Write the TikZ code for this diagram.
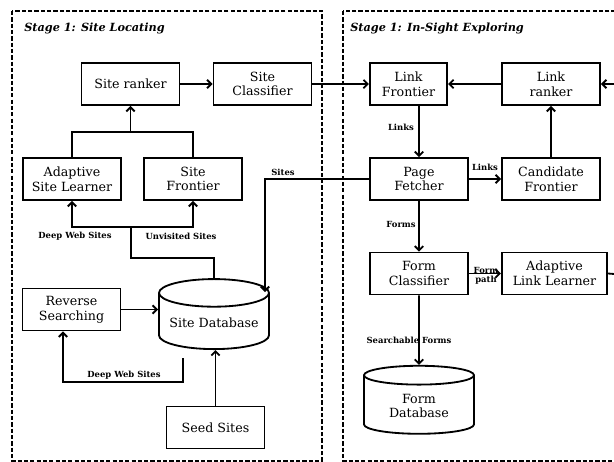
\documentclass[tikz,border=0pt]{standalone}
\usepackage{fontspec}
\setmainfont{DejaVu Serif}
\usetikzlibrary{shapes.geometric,arrows.meta}

\tikzset{
    blk/.style={draw, line width=1.3pt, minimum width=2.45cm, minimum height=1.05cm, align=center, inner sep=1pt, font=\fontsize{9}{10.5}\selectfont},
    dbase/.style={blk, cylinder, shape border rotate=90, shape aspect=0.3, minimum width=2.75cm, minimum height=1.75cm},
    lbl/.style={font=\fontsize{6}{6.5}\selectfont\bfseries, inner sep=0pt, align=center},
    stage/.style={font=\fontsize{8}{9}\selectfont\bfseries\itshape, anchor=west, inner sep=0pt},
    link/.style={line width=1.3pt, -{Straight Barb[length=3pt,width=6pt]}},
    wire/.style={line width=1.3pt},
    zone/.style={line width=1pt, dash pattern=on 3pt off 1.5pt}
}

\begin{document}
\begin{tikzpicture}[x=0.025cm, y=-0.025cm]
    \useasboundingbox (0,0) rectangle (614,462);
    \draw[zone] (12,11) rectangle (322,461);
    \draw[zone] (343,11) rectangle (640,461);
    \node[stage] (st1) at (24,28) {Stage 1: Site Locating};
    \node[stage] (st2) at (350,28) {Stage 1: In-Sight Exploring};

    \node[blk] (srank) at (130.5,84) {Site ranker};
    \node[blk] (sclass) at (262.5,84) {Site\\Classifier};
    \node[blk] (aslearn) at (72,179) {Adaptive\\Site Learner};
    \node[blk] (sfront) at (193,179) {Site\\Frontier};
    \node[blk] (rsearch) at (71.5,309.5) {Reverse\\Searching};
    \node[dbase] (sdb) at (214,323) {Site Database};
    \node[blk] (seed) at (215.5,427.5) {Seed Sites};

    \node[blk, minimum width=1.93cm] (lfront) at (408.5,84) {Link\\Frontier};
    \node[blk] (lrank) at (551,84) {Link\\ranker};
    \node[blk] (pfetch) at (419,179) {Page\\Fetcher};
    \node[blk] (cfront) at (551,179) {Candidate\\Frontier};
    \node[blk] (fclass) at (419,273.5) {Form\\Classifier};
    \node[blk, minimum width=2.63cm] (allearn) at (554.5,273.5) {Adaptive\\Link Learner};
    \node[dbase, minimum height=1.7cm] (fdb) at (419,406) {Form\\Database};

    \coordinate (jup) at (127,132);
    \coordinate (jdn) at (131,227);
    \coordinate (jmid) at (131,258);
    \coordinate (rsl) at (63,382);
    \coordinate (dbl) at (183,358);
    \coordinate (dbr) at (265,292);
    \coordinate (rin) at (640,84);
    \coordinate (rout) at (640,276);

    \draw[wire] (aslearn.north) |- (jup) -| (sfront.north);
    \draw[link] (srank.south |- jup) -- (srank.south);
    \draw[link] (sdb.north) |- (jmid) -- (jdn) -| (aslearn.south);
    \draw[link] (jdn) -| (sfront.south);
    \draw[link] (srank) -- (sclass);
    \draw[link] (rsearch.east) -- (rsearch.east -| sdb.west);
    \draw[link] (dbl) |- (rsl) -- (rsl |- rsearch.south);
    \draw[link] (seed.north) -- (seed.north |- sdb.south);
    \draw[link] (pfetch.west) -| (dbr);
    \draw[link] (sclass.east) -- (sclass.east -| lfront.west);
    \draw[link] (lrank) -- (lfront);
    \draw[link] (rin) -- (lrank.east);
    \draw[link] (lfront.south -| pfetch) -- (pfetch);
    \draw[link] (pfetch) -- (cfront);
    \draw[link] (cfront) -- (lrank);
    \draw[link] (pfetch) -- (fclass);
    \draw[link] (fclass) -- (allearn);
    \draw[link] (fclass) -- (fdb);
    \draw[wire] (allearn.east) -- (rout);

    \node[lbl] (l1) at (75,236) {Deep Web Sites};
    \node[lbl] (l2) at (181,236) {Unvisited Sites};
    \node[lbl] (l3) at (124,375) {Deep Web Sites};
    \node[lbl] (l4) at (283,172) {Sites};
    \node[lbl] (l5) at (401,127) {Links};
    \node[lbl] (l6) at (485,167) {Links};
    \node[lbl] (l7) at (401,224) {Forms};
    \node[lbl] (l8) at (486,276) {Form\\path};
    \node[lbl] (l9) at (409,340) {Searchable Forms};
\end{tikzpicture}
\end{document}
